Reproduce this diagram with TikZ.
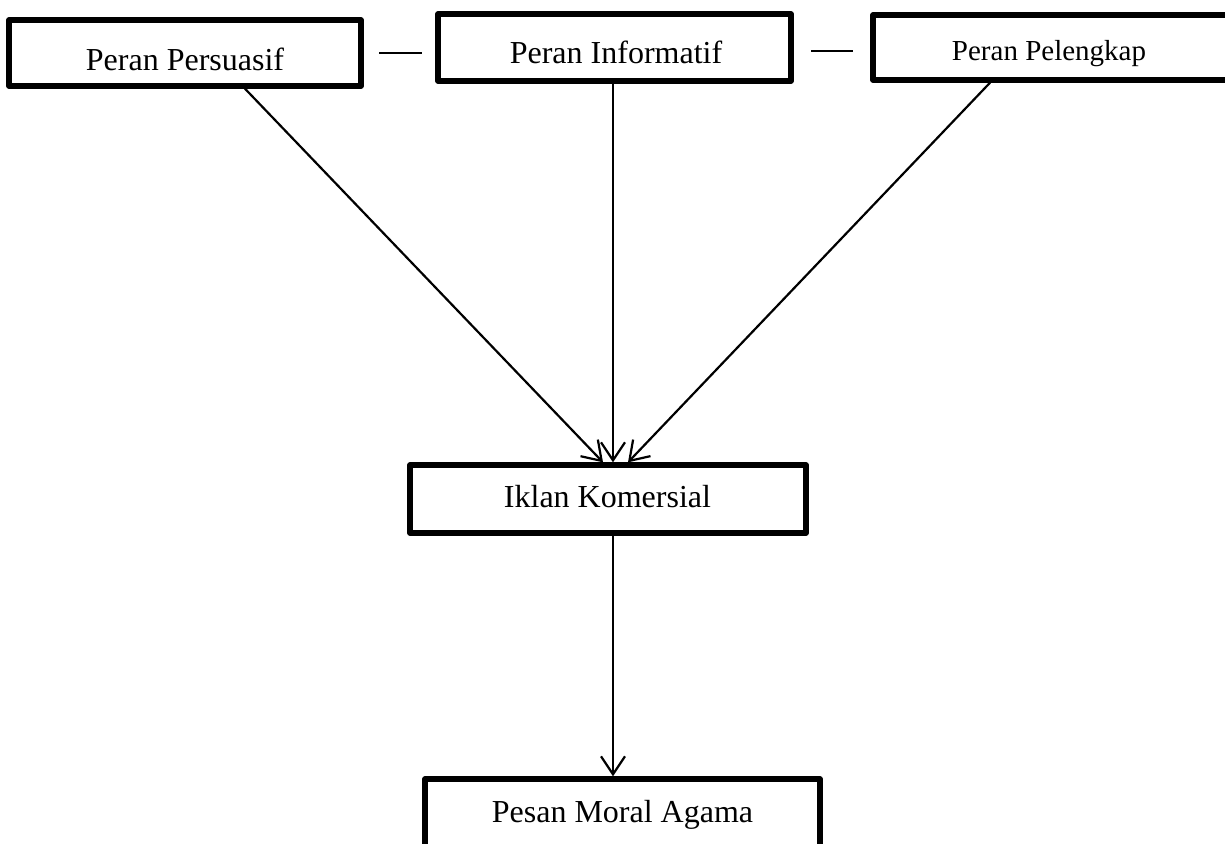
\documentclass[tikz,border=0pt]{standalone}
\usepackage{fontspec}
\setmainfont{Liberation Serif}
\usetikzlibrary{arrows.meta}
\begin{document}
\begin{tikzpicture}[x=0.5pt,y=-0.5pt,
  boxnode/.style={draw=black,line width=2.7pt,line join=round,rectangle,inner sep=0pt,fill=white},
  lbl/.style={anchor=base,inner sep=0pt,font=\fontsize{16}{19}\selectfont},
  lblsmall/.style={anchor=base,inner sep=0pt,font=\fontsize{14.5}{17}\selectfont},
  arr/.style={line width=1.1pt,-{Straight Barb[length=9pt,width=12pt,line width=1.1pt]}},
  dashline/.style={line width=1.2pt}]
\clip (0,0) rectangle (1225,843);
\fill[white] (0,0) rectangle (1225,843);
% boxes
\node[boxnode,minimum width=176pt,minimum height=33pt] (b1) at (185,53) {};
\node[boxnode,minimum width=176.5pt,minimum height=33.5pt] (b2) at (614.5,47.5) {};
\node[boxnode,minimum width=182pt,minimum height=32.5pt] (b3) at (1055,47.5) {};
\node[boxnode,minimum width=198pt,minimum height=34pt] (b4) at (608,499) {};
\node[boxnode,minimum width=197.5pt,minimum height=34pt] (b5) at (622.5,813) {};
% labels
\node[lbl] (t1) at (185,70) {Peran Persuasif};
\node[lbl] (t2) at (616,63) {Peran Informatif};
\node[lblsmall] (t3) at (1049,60) {Peran Pelengkap};
\node[lbl] (t4) at (607.5,507) {Iklan Komersial};
\node[lbl] (t5) at (622.5,822) {Pesan Moral Agama};
% dashes between top boxes
\coordinate (d1a) at (379,53);
\coordinate (d1b) at (422,53);
\coordinate (d2a) at (811,51);
\coordinate (d2b) at (853,51);
\draw[dashline] (d1a) -- (d1b);
\draw[dashline] (d2a) -- (d2b);
% arrows
\draw[arr] ([xshift=30pt]b1.south) -- ([xshift=-2.5pt]b4.north);
\draw[arr] ([xshift=-0.75pt]b2.south) -- ([xshift=2.5pt]b4.north);
\draw[arr] ([xshift=-32.5pt]b3.south) -- ([xshift=10pt]b4.north);
\draw[arr] ([xshift=2.5pt]b4.south) -- ([xshift=2.5pt]b4.south |- b5.north);
\end{tikzpicture}
\end{document}
